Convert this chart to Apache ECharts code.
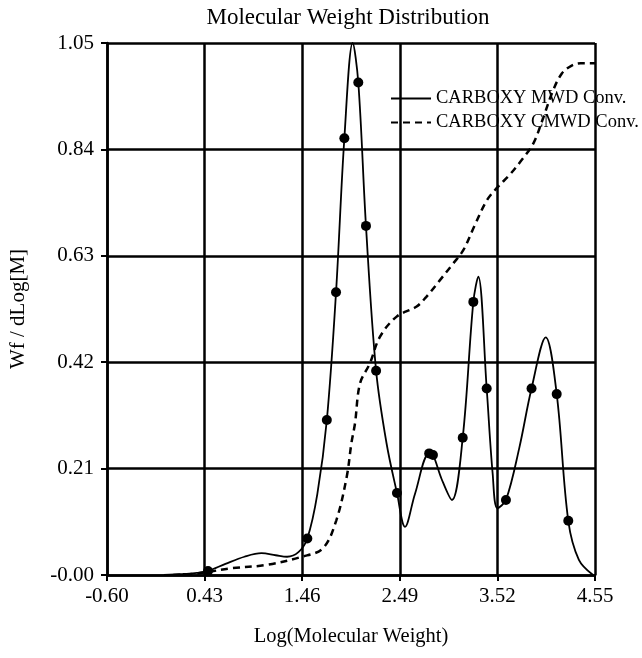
<!DOCTYPE html>
<html>
<head>
<meta charset="utf-8">
<title>Molecular Weight Distribution</title>
<script src="https://cdn.jsdelivr.net/npm/echarts@6/dist/echarts.min.js"></script>
<style>
  html, body { margin: 0; padding: 0; background: #fff; }
  #chart { width: 642px; height: 658px; }
</style>
</head>
<body>
<div id="chart"></div>
<script>
// Axis ticks
const xTicks = [-0.60, 0.43, 1.46, 2.49, 3.52, 4.55];
const yTicks = [0.00, 0.21, 0.42, 0.63, 0.84, 1.05];

// MWD curve: sampled points that carry a marker
const mwdMarkX = [0.466, 1.514, 1.72, 1.817, 1.905, 2.052, 2.133, 2.24, 2.46, 2.80, 2.84, 3.154, 3.266, 3.407, 3.61, 3.88, 4.146, 4.268];
const mwdMarkY = [0.008, 0.072, 0.306, 0.558, 0.862, 0.972, 0.689, 0.403, 0.162, 0.240, 0.237, 0.271, 0.539, 0.368, 0.148, 0.368, 0.357, 0.107];

// MWD curve: remaining points between the markers
const mwdCurveX = [0.00, 0.20, 0.35, 0.65, 0.85, 1.03, 1.18, 1.30, 1.42, 1.62, 1.993, 2.35, 2.545, 2.65, 2.93, 3.04, 3.318, 3.47, 3.52, 3.75, 4.03, 4.38, 4.53];
const mwdCurveY = [0.000, 0.002, 0.004, 0.022, 0.036, 0.043, 0.039, 0.036, 0.045, 0.160, 1.050, 0.260, 0.095, 0.160, 0.190, 0.148, 0.589, 0.200, 0.132, 0.250, 0.469, 0.030, 0.000];

// Cumulative MWD curve
const cmwdX = [0.10, 0.30, 0.466, 0.70, 1.085, 1.455, 1.68, 1.82, 1.93, 1.98, 2.017, 2.07, 2.175, 2.28, 2.457, 2.668, 2.77, 2.914, 3.054, 3.16, 3.28, 3.41, 3.52, 3.65, 3.78, 3.90, 4.005, 4.10, 4.20, 4.30, 4.40, 4.55];
const cmwdY = [0.000, 0.002, 0.006, 0.013, 0.020, 0.036, 0.053, 0.108, 0.194, 0.261, 0.299, 0.378, 0.418, 0.470, 0.510, 0.530, 0.549, 0.582, 0.615, 0.641, 0.690, 0.740, 0.765, 0.790, 0.820, 0.852, 0.903, 0.953, 0.990, 1.005, 1.010, 1.010];

const seriesNames = ['CARBOXY MWD Conv.', 'CARBOXY CMWD Conv.'];

const pairs = (xs, ys) => xs.map((x, i) => [x, ys[i]]);
const mwdLine = pairs(mwdCurveX, mwdCurveY)
  .concat(pairs(mwdMarkX, mwdMarkY))
  .sort((a, b) => a[0] - b[0]);

const serif = "'Liberation Serif', 'Times New Roman', 'DejaVu Serif', serif";
const ink = '#000';

const chart = echarts.init(document.getElementById('chart'), null, { renderer: 'canvas' });
chart.setOption({
  animation: false,
  backgroundColor: '#fff',
  title: {
    text: 'Molecular Weight Distribution',
    left: 343,
    textAlign: 'center',
    top: 1,
    textStyle: { fontFamily: serif, fontSize: 23, fontWeight: 'normal', color: ink }
  },
  legend: {
    data: seriesNames,
    orient: 'vertical',
    left: 390,
    top: 89,
    itemWidth: 40,
    itemHeight: 14,
    itemGap: 5,
    padding: 0,
    selectedMode: false,
    // line-only keys: hide the symbol drawn in the middle of each key
    itemStyle: { color: 'rgba(0,0,0,0)', borderColor: 'rgba(0,0,0,0)', borderWidth: 0, opacity: 0 },
    textStyle: { fontFamily: serif, fontSize: 18.5, color: ink }
  },
  grid: { left: 107, right: 47, top: 43, bottom: 83, containLabel: false },
  xAxis: {
    type: 'value',
    min: xTicks[0],
    max: xTicks[xTicks.length - 1],
    interval: 1.03,
    name: 'Log(Molecular Weight)',
    nameLocation: 'middle',
    nameGap: 51,
    nameTextStyle: { fontFamily: serif, fontSize: 20.5, color: ink },
    axisLine: { show: true, onZero: false, lineStyle: { color: ink, width: 2.5 } },
    axisTick: { show: true, inside: false, length: 6, lineStyle: { color: ink, width: 2 } },
    axisLabel: {
      margin: 11,
      fontFamily: serif, fontSize: 21, color: ink,
      formatter: v => v.toFixed(2)
    },
    splitLine: { show: true, lineStyle: { color: ink, width: 2.5 } }
  },
  yAxis: {
    type: 'value',
    min: yTicks[0],
    max: yTicks[yTicks.length - 1],
    interval: 0.21,
    name: 'Wf / dLog[M]',
    nameLocation: 'middle',
    nameGap: 78,
    nameTextStyle: { fontFamily: serif, fontSize: 21, color: ink },
    axisLine: { show: true, onZero: false, lineStyle: { color: ink, width: 2.5 } },
    axisTick: { show: true, inside: false, length: 6, lineStyle: { color: ink, width: 2 } },
    axisLabel: {
      margin: 13,
      fontFamily: serif, fontSize: 21, color: ink,
      formatter: v => (Math.abs(v) < 1e-9 ? '-0.00' : v.toFixed(2))
    },
    splitLine: { show: true, lineStyle: { color: ink, width: 2.5 } }
  },
  series: [
    {
      name: seriesNames[0],
      type: 'line',
      data: mwdLine,
      smooth: 0.35,
      symbol: 'none',
      lineStyle: { color: ink, width: 1.8, type: 'solid' },
      itemStyle: { color: ink },
      z: 3
    },
    {
      name: seriesNames[1],
      type: 'line',
      data: pairs(cmwdX, cmwdY),
      smooth: 0.35,
      symbol: 'none',
      lineStyle: { color: ink, width: 2.5, type: [7, 5] },
      itemStyle: { color: ink },
      z: 3
    },
    {
      name: 'mwd-samples',
      type: 'scatter',
      data: pairs(mwdMarkX, mwdMarkY),
      symbol: 'circle',
      symbolSize: 10,
      itemStyle: { color: ink, opacity: 1 },
      z: 4
    }
  ]
});
</script>
</body>
</html>
